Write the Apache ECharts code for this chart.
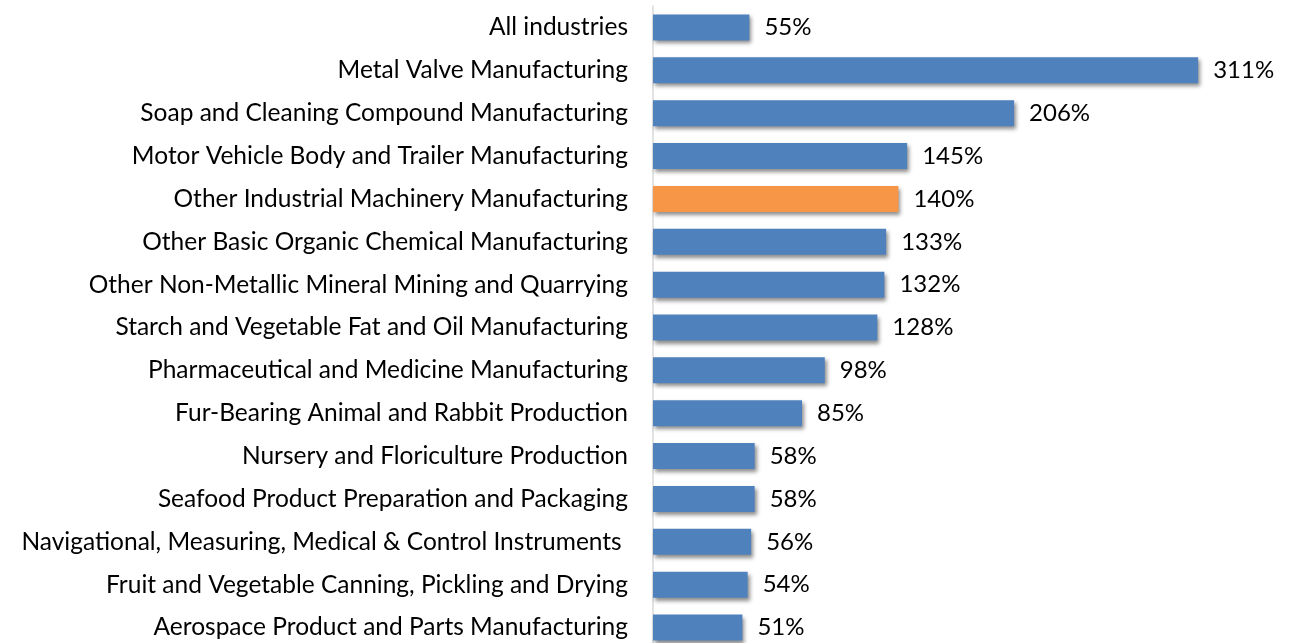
<!DOCTYPE html>
<html><head><meta charset="utf-8">
<script src="https://cdn.jsdelivr.net/npm/echarts@6/dist/echarts.min.js"></script>
<style>html,body{margin:0;padding:0;background:#fff;overflow:hidden}#c{width:1289px;height:670px}</style>
</head><body><div id="c"></div>
<script>
const categories = [
  "All industries",
  "Metal Valve Manufacturing",
  "Soap and Cleaning Compound Manufacturing",
  "Motor Vehicle Body and Trailer Manufacturing",
  "Other Industrial Machinery Manufacturing",
  "Other Basic Organic Chemical Manufacturing",
  "Other Non-Metallic Mineral Mining and Quarrying",
  "Starch and Vegetable Fat and Oil Manufacturing",
  "Pharmaceutical and Medicine Manufacturing",
  "Fur-Bearing Animal and Rabbit Production",
  "Nursery and Floriculture Production",
  "Seafood Product Preparation and Packaging",
  "Navigational, Measuring, Medical & Control Instruments ",
  "Fruit and Vegetable Canning, Pickling and Drying",
  "Aerospace Product and Parts Manufacturing"
];
const values = [55, 311, 206, 145, 140, 133, 132, 128, 98, 85, 58, 58, 56, 54, 51];
const highlight = "Other Industrial Machinery Manufacturing";

const chart = echarts.init(document.getElementById('c'));
const font = "Lato";
chart.setOption({
  animation: false,
  grid: { left: 653, top: 6, height: 643, width: 613.5, containLabel: false },
  xAxis: { type: 'value', min: 0, max: 350, show: false },
  yAxis: {
    type: 'category', data: categories, inverse: true,
    axisLine: { show: true, lineStyle: { color: '#d9d9d9', width: 1.5 } },
    axisTick: { show: false },
    axisLabel: { color: '#000', fontSize: 24.5, fontFamily: font, margin: 25 }
  },
  series: [{
    type: 'bar', barWidth: 26,
    data: values.map((v, i) => ({
      value: v,
      itemStyle: { color: categories[i] === highlight ? '#f79646' : '#4f81bd' }
    })),
    itemStyle: { shadowColor: 'rgba(0,0,0,0.45)', shadowBlur: 4, shadowOffsetX: 2, shadowOffsetY: 3 },
    label: { show: true, position: 'right', distance: 15, formatter: p => p.value + '%', color: '#000', fontSize: 24, fontFamily: font }
  }]
});
</script></body></html>
